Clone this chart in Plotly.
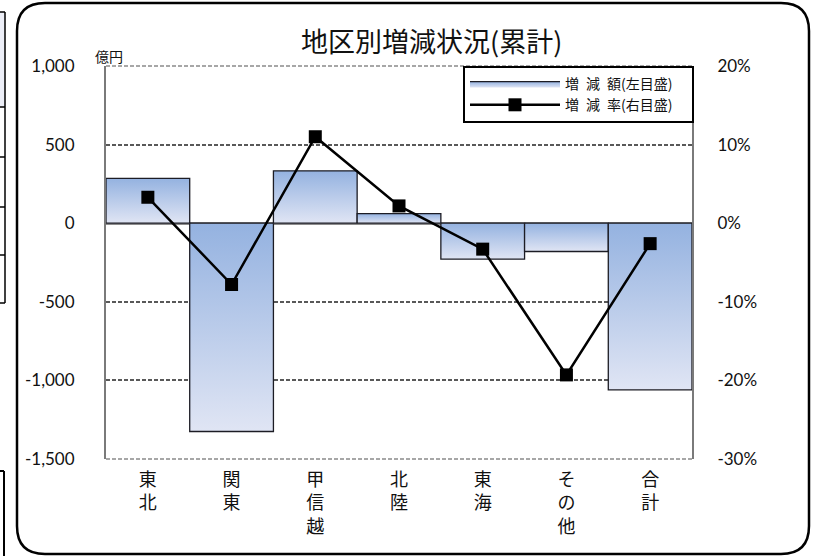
import plotly.graph_objects as go

# ---- data ----
categories = ["東<br>北", "関<br>東", "甲<br>信<br>越", "北<br>陸", "東<br>海", "そ<br>の<br>他", "合<br>計"]
amount = [285, -1325, 333, 61, -229, -180, -1060]          # 億円 (left axis)
rate = [3.3, -7.8, 11.0, 2.2, -3.3, -19.3, -2.6]            # % (right axis)
left_ticks = [1000, 500, 0, -500, -1000, -1500]
left_ticktext = ["1,000", "500", "0", "-500", "-1,000", "-1,500"]
right_ticks = [20, 10, 0, -10, -20, -30]
right_ticktext = ["20%", "10%", "0%", "-10%", "-20%", "-30%"]
bar_name = "増\u2002減\u2002額(左目盛)\u3000"
line_name = "増\u2002減\u2002率(右目盛)\u3000"
title_text = "地区別増減状況(累計)"

W, H = 816, 556
L, R, T, B = 106, 692, 66, 459  # plot area pixels


def px(x):
    return (x - L) / (R - L)


def py(y):
    return (B - y) / (B - T)


FONT = "Lato, 'Noto Sans CJK JP', sans-serif"
CJK = "'Noto Sans CJK JP', sans-serif"

fig = go.Figure()

light = "#e0e5f4"
dark = "#94b2e0"
for i, v in enumerate(amount):
    xs = [i - 0.5, i - 0.5, i + 0.5, i + 0.5, i - 0.5]
    ys = [0, v, v, 0, 0]
    fig.add_trace(go.Scatter(
        x=xs, y=ys, mode="lines", fill="toself",
        fillgradient=dict(type="vertical", colorscale=[[0, light], [1, dark]]),
        line=dict(color="#1c1c24", width=1.3),
        name=bar_name, legendgroup="bar", showlegend=(i == 0),
        hoverinfo="skip",
    ))

fig.add_trace(go.Scatter(
    x=list(range(len(categories))), y=rate, yaxis="y2",
    mode="lines+markers", name=line_name, legendgroup="line",
    line=dict(color="black", width=2.5),
    marker=dict(symbol="square", size=13, color="black"),
))

fig.update_layout(
    width=W, height=H,
    margin=dict(l=L, r=W - R, t=T, b=H - B),
    paper_bgcolor="white", plot_bgcolor="white",
    font=dict(family=FONT, size=17, color="#111"),
    showlegend=True,
    legend=dict(
        x=px(694), xanchor="right", y=1, yanchor="top",
        bgcolor="white", bordercolor="black", borderwidth=2,
        font=dict(family=CJK, size=14, color="#111"),
        itemwidth=90, tracegroupgap=0,
        traceorder="grouped",
    ),
    xaxis=dict(
        range=[-0.5, len(categories) - 0.5],
        tickvals=list(range(len(categories))), ticktext=categories,
        tickfont=dict(family=CJK, size=18, color="#111"),
        showgrid=False, zeroline=False, showline=False, ticks="",
        ticklabelstandoff=8,
    ),
    yaxis=dict(
        range=[-1500, 1000], tickvals=left_ticks, ticktext=left_ticktext,
        showgrid=True, gridcolor="#595959", griddash="4px,2px", gridwidth=1.5,
        zeroline=True, zerolinecolor="#8c8c8c", zerolinewidth=2.5,
        showline=True, linecolor="#7a7a7a", linewidth=2, mirror=False,
        ticks="", ticklabelstandoff=26,
    ),
    yaxis2=dict(
        range=[-30, 20], tickvals=right_ticks, ticktext=right_ticktext,
        overlaying="y", side="right",
        showgrid=False, zeroline=False,
        showline=True, linecolor="#7a7a7a", linewidth=2,
        ticks="", ticklabelstandoff=20,
    ),
)

shapes = []
# rounded chart border
x0, x1, y0, y1, r = 17, 809, 3, 554, 28
path = (f"M {px(x0)},{py(y0 + r)} "
        f"Q {px(x0)},{py(y0)} {px(x0 + r)},{py(y0)} "
        f"L {px(x1 - r)},{py(y0)} "
        f"Q {px(x1)},{py(y0)} {px(x1)},{py(y0 + r)} "
        f"L {px(x1)},{py(y1 - r)} "
        f"Q {px(x1)},{py(y1)} {px(x1 - r)},{py(y1)} "
        f"L {px(x0 + r)},{py(y1)} "
        f"Q {px(x0)},{py(y1)} {px(x0)},{py(y1 - r)} Z")
shapes.append(dict(type="path", xref="paper", yref="paper", path=path,
                   line=dict(color="black", width=2.5), layer="below"))
# top & bottom dashed borders of plot area
for yy in (T, B):
    shapes.append(dict(type="line", xref="paper", yref="paper",
                       x0=0, x1=1, y0=py(yy), y1=py(yy),
                       line=dict(color="#8a8a8a", width=1.5, dash="4px,2px")))
# left-side fragments of neighbouring table
shapes.append(dict(type="rect", xref="paper", yref="paper",
                   x0=px(-2), x1=px(5), y0=py(107), y1=py(12),
                   fillcolor="#eceef7", line=dict(width=0), layer="below"))
shapes.append(dict(type="line", xref="paper", yref="paper",
                   x0=px(5), x1=px(5), y0=py(12), y1=py(303),
                   line=dict(color="black", width=1.5)))
for yy in (12, 107, 157, 207, 255, 303):
    shapes.append(dict(type="line", xref="paper", yref="paper",
                       x0=px(-2), x1=px(5), y0=py(yy), y1=py(yy),
                       line=dict(color="black", width=1.5)))
shapes.append(dict(type="line", xref="paper", yref="paper",
                   x0=px(4), x1=px(4), y0=py(471), y1=py(560),
                   line=dict(color="black", width=2)))
shapes.append(dict(type="line", xref="paper", yref="paper",
                   x0=px(-2), x1=px(4), y0=py(471), y1=py(471),
                   line=dict(color="black", width=2)))
fig.update_layout(shapes=shapes)

fig.add_annotation(text=title_text, xref="paper", yref="paper",
                   x=px(432), y=py(41), showarrow=False,
                   font=dict(family=CJK, size=27, color="#111"),
                   xanchor="center", yanchor="middle")
fig.add_annotation(text="億円", xref="paper", yref="paper",
                   x=px(109), y=py(56), showarrow=False,
                   font=dict(family=CJK, size=14, color="#111"),
                   xanchor="center", yanchor="middle")

fig.write_html("out.html")
